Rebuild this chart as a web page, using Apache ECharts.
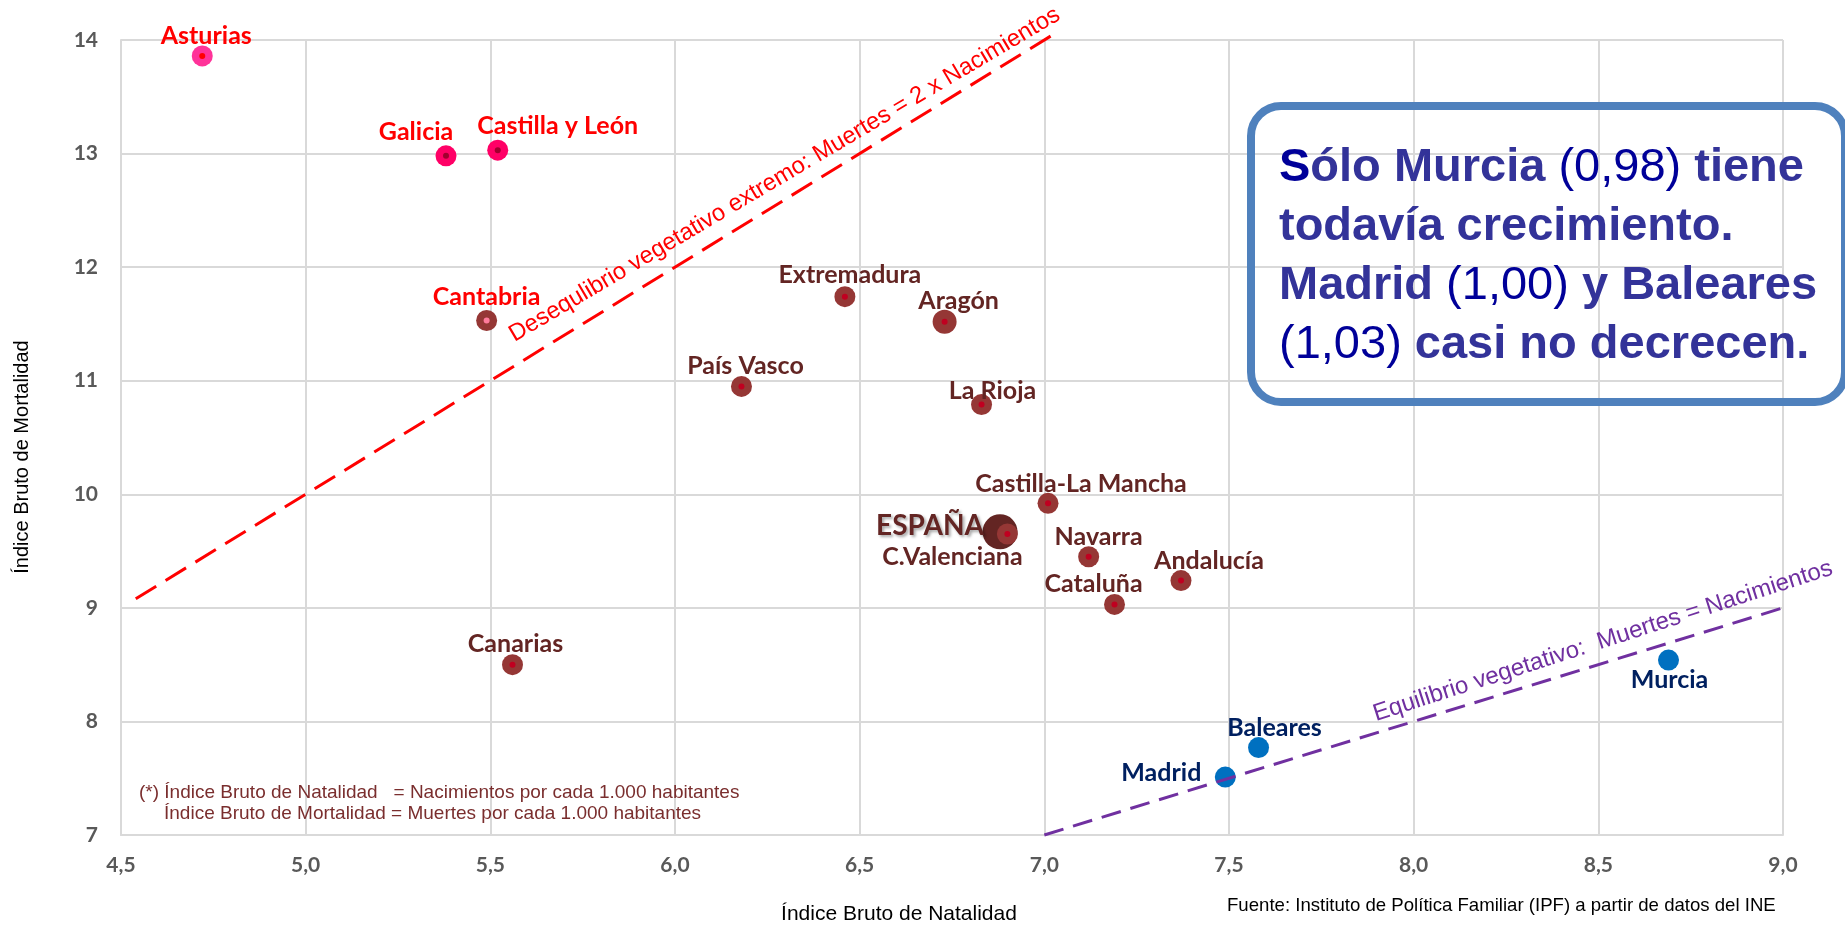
<!DOCTYPE html>
<html><head><meta charset="utf-8">
<script src="https://cdn.jsdelivr.net/npm/echarts@6/dist/echarts.min.js"></script>
<style>html,body{margin:0;padding:0;background:#fff}#c{width:1845px;height:927px}</style>
</head><body><div id="c"></div>
<script>
// ---------- DATA ----------
const regions    = ['Asturias','Galicia','Castilla y León','Cantabria','Extremadura','Aragón','País Vasco','La Rioja','Castilla-La Mancha','C.Valenciana','Navarra','Cataluña','Andalucía','Canarias','Murcia','Baleares','Madrid'];
const natalidad  = [4.72, 5.38, 5.52, 5.49, 6.46, 6.73, 6.18, 6.83, 7.01, 6.90, 7.12, 7.19, 7.37, 5.56, 8.69, 7.58, 7.49];
const mortalidad = [13.86, 12.98, 13.03, 11.53, 11.74, 11.52, 10.95, 10.79, 9.92, 9.65, 9.45, 9.03, 9.24, 8.50, 8.54, 7.77, 7.51];
const espanaName = 'ESPAÑA';
const espanaPoint = [6.88, 9.67];
const lineDoble = [[4.54, 9.08], [7.04, 14.08]];      // Muertes = 2 x Nacimientos
const lineEquilibrio = [[7.0, 7.0], [9.0, 9.0]];      // Muertes = Nacimientos
const xTickLabels = ['4,5','5,0','5,5','6,0','6,5','7,0','7,5','8,0','8,5','9,0'];
const yTickLabels = ['7','8','9','10','11','12','13','14'];

// ---------- STYLES ----------
const BROWN = '#953735', BROWN_TXT = '#632523', RED_DOT = '#C00020', BLUE = '#0070C0', NAVY = '#002060';
const S = {
  'Asturias':          {c:'#FF3399', d:'#FF0000', s:21, lc:'#FF0000', o:[4,-20]},
  'Galicia':           {c:'#FF0066', d:'#A0002E', s:21, lc:'#FF0000', o:[-30,-24]},
  'Castilla y León':   {c:'#FF0066', d:'#A0002E', s:21, lc:'#FF0000', o:[60,-24]},
  'Cantabria':         {c:BROWN, d:'#FF7C9C', s:21, lc:'#FF0000', o:[0,-24]},
  'Extremadura':       {c:BROWN, d:RED_DOT, s:21, lc:BROWN_TXT, o:[5,-22]},
  'Aragón':            {c:BROWN, d:RED_DOT, s:24, lc:BROWN_TXT, o:[14,-21]},
  'País Vasco':        {c:BROWN, d:RED_DOT, s:21, lc:BROWN_TXT, o:[4,-20]},
  'La Rioja':          {c:BROWN, d:RED_DOT, s:21, lc:BROWN_TXT, o:[11,-14]},
  'Castilla-La Mancha':{c:BROWN, d:RED_DOT, s:21, lc:BROWN_TXT, o:[33,-19]},
  'C.Valenciana':      {c:BROWN, d:RED_DOT, s:21, lc:BROWN_TXT, o:[-55,23]},
  'Navarra':           {c:BROWN, d:RED_DOT, s:21, lc:BROWN_TXT, o:[10,-20]},
  'Cataluña':          {c:BROWN, d:RED_DOT, s:21, lc:BROWN_TXT, o:[-21,-21]},
  'Andalucía':         {c:BROWN, d:RED_DOT, s:21, lc:BROWN_TXT, o:[28,-20]},
  'Canarias':          {c:BROWN, d:RED_DOT, s:21, lc:BROWN_TXT, o:[3,-21]},
  'Murcia':            {c:BLUE, d:null, s:21, lc:NAVY, o:[1,20]},
  'Baleares':          {c:BLUE, d:null, s:21, lc:NAVY, o:[16,-20]},
  'Madrid':            {c:BLUE, d:null, s:21, lc:NAVY, o:[-64,-4]}
};
const LABEL_FONT = 'Lato';
const ARIAL = '"Liberation Sans", Arial, sans-serif';

const outerData = regions.map((n, i) => {
  const st = S[n];
  return {
    name: n, value: [natalidad[i], mortalidad[i]], symbolSize: st.s,
    itemStyle: {color: st.c, opacity: 1},
    label: {show: true, position: 'inside', offset: st.o, color: st.lc, formatter: '{b}',
            fontFamily: LABEL_FONT, fontWeight: 'bold', fontSize: 25}
  };
});
const innerData = regions.map((n, i) => ({n, i})).filter(o => S[o.n].d).map(o => ({
  name: o.n, value: [natalidad[o.i], mortalidad[o.i]], itemStyle: {color: S[o.n].d, opacity: 1}
}));

const chart = echarts.init(document.getElementById('c'), null, {renderer: 'canvas'});
const option = {
  animation: false,
  backgroundColor: '#fff',
  grid: {left: 121, right: 62, top: 40, bottom: 92},
  xAxis: {
    type: 'value', min: 4.5, max: 9.0, interval: 0.5,
    axisLine: {show: true, lineStyle: {color: '#D9D9D9', width: 2}},
    axisTick: {show: false},
    splitLine: {show: true, lineStyle: {color: '#D9D9D9', width: 2}},
    axisLabel: {margin: 20, color: '#595959', fontFamily: LABEL_FONT, fontWeight: 'bold', fontSize: 21,
      formatter: v => xTickLabels[Math.round((v - 4.5) / 0.5)]}
  },
  yAxis: {
    type: 'value', min: 7, max: 14, interval: 1,
    axisLine: {show: true, lineStyle: {color: '#D9D9D9', width: 2}},
    axisTick: {show: false},
    splitLine: {show: true, lineStyle: {color: '#D9D9D9', width: 2}},
    axisLabel: {margin: 23, color: '#595959', fontFamily: LABEL_FONT, fontWeight: 'bold', fontSize: 21,
      formatter: v => yTickLabels[Math.round(v - 7)]}
  },
  series: [
    {
      name: 'España', type: 'scatter', z: 2, symbolSize: 35,
      itemStyle: {color: '#632523', opacity: 1},
      data: [{name: espanaName, value: espanaPoint}],
      label: {show: true, position: 'inside', offset: [-70, -6], formatter: '{b}',
        color: '#632523', fontFamily: LABEL_FONT, fontWeight: 'bold', fontSize: 28,
        textShadowColor: 'rgba(0,0,0,0.35)', textShadowBlur: 3, textShadowOffsetX: 2, textShadowOffsetY: 2}
    },
    {name: 'Regiones', type: 'scatter', z: 3, data: outerData},
    {name: 'Centros', type: 'scatter', z: 4, symbolSize: 6, silent: true, data: innerData, label: {show: false}},
    {
      name: 'Desequilibrio', type: 'line', z: 5, symbol: 'none', clip: false, silent: true,
      lineStyle: {color: '#FF0000', width: 3, type: [24, 11]},
      data: lineDoble
    },
    {
      name: 'Equilibrio', type: 'line', z: 5, symbol: 'none', clip: false, silent: true,
      lineStyle: {color: '#7030A0', width: 3, type: [20, 10]},
      data: lineEquilibrio
    }
  ]
};
chart.setOption(option);

// ---------- annotations ----------
function onLine(line, xVal) {
  const yVal = line[0][1] + (xVal - line[0][0]) * (line[1][1] - line[0][1]) / (line[1][0] - line[0][0]);
  return chart.convertToPixel({gridIndex: 0}, [xVal, yVal]);
}
function along(line, xVal, dist, rot) {
  const p = onLine(line, xVal);
  const th = rot * Math.PI / 180;
  return {x: p[0] - dist * Math.sin(th), y: p[1] - dist * Math.cos(th), rotation: th};
}
const pRed = onLine(lineDoble, 6.297);
const tRed = {x: pRed[0], y: pRed[1] - 25, rotation: 30.6 * Math.PI / 180};
const tPur = along(lineEquilibrio, 8.53, 21, 17.8);

function txt(x, y, text, opts) {
  return Object.assign({type: 'text', x, y, z: 20, silent: true,
    style: Object.assign({text, fill: '#000', font: '20px ' + ARIAL, align: 'left', verticalAlign: 'middle',
      textAlign: 'left', textVerticalAlign: 'middle'}, opts.style || {})}, opts.el || {});
}

const boxRich = {
  s: {fill: '#000099', color: '#000099', fontSize: 47, fontWeight: 'bold', fontFamily: ARIAL, lineHeight: 59},
  b: {fill: '#333399', color: '#333399', fontSize: 47, fontWeight: 'bold', fontFamily: ARIAL, lineHeight: 59},
  n: {fill: '#000099', color: '#000099', fontSize: 47, fontWeight: 'normal', fontFamily: ARIAL, lineHeight: 59}
};

chart.setOption({
  graphic: [
    {type: 'rect', z: 15, silent: true, shape: {x: 1251, y: 106, width: 594, height: 296, r: 30},
     style: {fill: 'rgba(0,0,0,0)', stroke: '#4F81BD', lineWidth: 8}},
    {type: 'text', z: 16, x: 1279, y: 139, silent: true,
     style: {text: '{s|S}{b|ólo Murcia }{n|(0,98)}{b| tiene}\n{b|todavía crecimiento.}\n{b|Madrid }{n|(1,00)}{b| y Baleares}\n{n|(1,03)}{b| casi no decrecen.}',
       rich: boxRich, font: 'bold 47px ' + ARIAL, fill: '#333399', align: 'left', verticalAlign: 'top',
       textAlign: 'left', textVerticalAlign: 'top', lineHeight: 59}},
    txt(tRed.x, tRed.y, 'Desequlibrio vegetativo extremo: Muertes = 2 x Nacimientos',
      {style: {fill: '#FF0000', font: '23.8px ' + ARIAL, align: 'center', textAlign: 'center'}, el: {rotation: tRed.rotation}}),
    txt(tPur.x, tPur.y, 'Equilibrio vegetativo:  Muertes = Nacimientos',
      {style: {fill: '#7030A0', font: '24px ' + ARIAL, align: 'center', textAlign: 'center'}, el: {rotation: tPur.rotation}}),
    txt(139, 793, '(*) Índice Bruto de Natalidad   = Nacimientos por cada 1.000 habitantes',
      {style: {fill: '#7A2E2E', font: '19px ' + ARIAL}}),
    txt(164, 814, 'Índice Bruto de Mortalidad = Muertes por cada 1.000 habitantes',
      {style: {fill: '#7A2E2E', font: '19px ' + ARIAL}}),
    txt(899, 914, 'Índice Bruto de Natalidad',
      {style: {fill: '#000', font: '21px ' + ARIAL, align: 'center', textAlign: 'center'}}),
    txt(22, 457, 'Índice Bruto de Mortalidad',
      {style: {fill: '#000', font: '20px ' + ARIAL, align: 'center', textAlign: 'center'}, el: {rotation: Math.PI / 2}}),
    txt(1227, 906, 'Fuente: Instituto de Política Familiar (IPF) a partir de datos del INE',
      {style: {fill: '#000', font: '18.6px ' + ARIAL}})
  ]
});
</script>
</body></html>
